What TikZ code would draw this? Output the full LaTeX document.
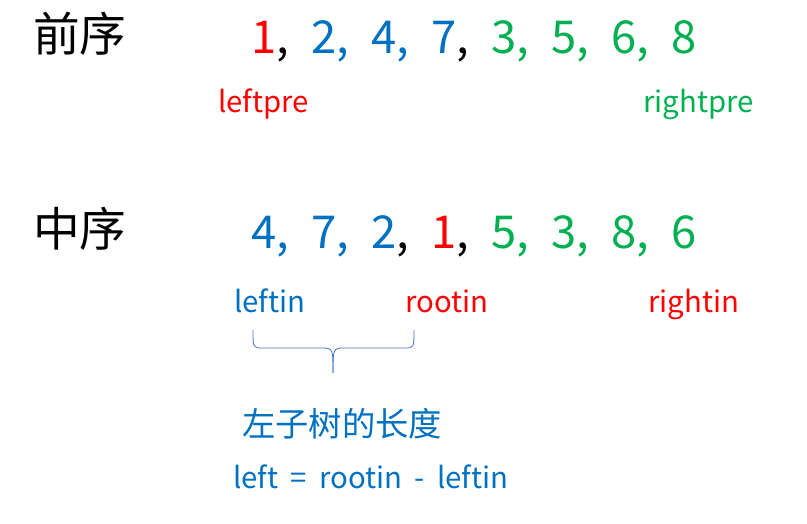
\documentclass[tikz,border=0pt]{standalone}
\usepackage{fontspec}
\setmainfont{Noto Sans CJK SC}
\definecolor{myred}{HTML}{FF0000}
\definecolor{myblue}{HTML}{0070C0}
\definecolor{mygreen}{HTML}{00B050}
\definecolor{bracecol}{HTML}{4472C4}
\tikzset{
  title/.style={anchor=base west,inner sep=0,font=\fontsize{35}{40}\selectfont},
  digit/.style={anchor=base west,inner sep=0,font=\fontsize{34}{40}\selectfont},
  tag/.style={anchor=base west,inner sep=0,font=\fontsize{22}{26}\selectfont},
  note/.style={anchor=base west,inner sep=0,font=\fontsize{25}{30}\selectfont}
}
\begin{document}
\begin{tikzpicture}[x=0.75pt,y=-0.75pt]
    \useasboundingbox (0,0) rectangle (807,524);

    % The row titles
    \node[title] (pretitle) at (33,52) {前序};
    \node[title] (intitle) at (33,247) {中序};

    % The preorder sequence
    \foreach \d/\dc/\cc [count=\i] in {1/myred/black,2/myblue/myblue,4/myblue/myblue,7/myblue/black,3/mygreen/mygreen,5/mygreen/mygreen,6/mygreen/mygreen}
      \node[digit] (pre\i) at (191+60*\i,54) {\textcolor{\dc}{\d}\textcolor{\cc}{,}};
    \node[digit,mygreen] (pre8) at (671,54) {8};

    % The inorder sequence
    \foreach \d/\dc/\cc [count=\i] in {4/myblue/myblue,7/myblue/myblue,2/myblue/black,1/myred/black,5/mygreen/mygreen,3/mygreen/mygreen,8/mygreen/mygreen}
      \node[digit] (in\i) at (191+60*\i,248) {\textcolor{\dc}{\d}\textcolor{\cc}{,}};
    \node[digit,mygreen] (in8) at (671,248) {6};

    % The index names
    \node[tag,myred] (leftpre) at (218,113) {leftpre};
    \node[tag,mygreen] (rightpre) at (643,113) {rightpre};
    \node[tag,myblue] (leftin) at (234,312) {leftin};
    \node[tag,myred] (rootin) at (405,312) {rootin};
    \node[tag,myred] (rightin) at (648,312) {rightin};

    % The brace under leftin .. rootin
    \coordinate (bl) at (253,330);
    \coordinate (br) at (414,330);
    \coordinate (tip) at (333,373);
    \draw[bracecol,semithick] (bl) .. controls (253,348) and (253,348) .. (263,348)
      -- (323,348) .. controls (333,348) and (333,350) .. (tip);
    \draw[bracecol,semithick] (br) .. controls (414,348) and (414,348) .. (404,348)
      -- (343,348) .. controls (333,348) and (333,350) .. (tip);

    % The length of the left subtree
    \node[note,myblue] (lenname) at (242,436) {左子树的长度};
    \node[tag,myblue] (lenform) at (233,488) {\spaceskip=0.42em left = rootin - leftin};
  \end{tikzpicture}
\end{document}
